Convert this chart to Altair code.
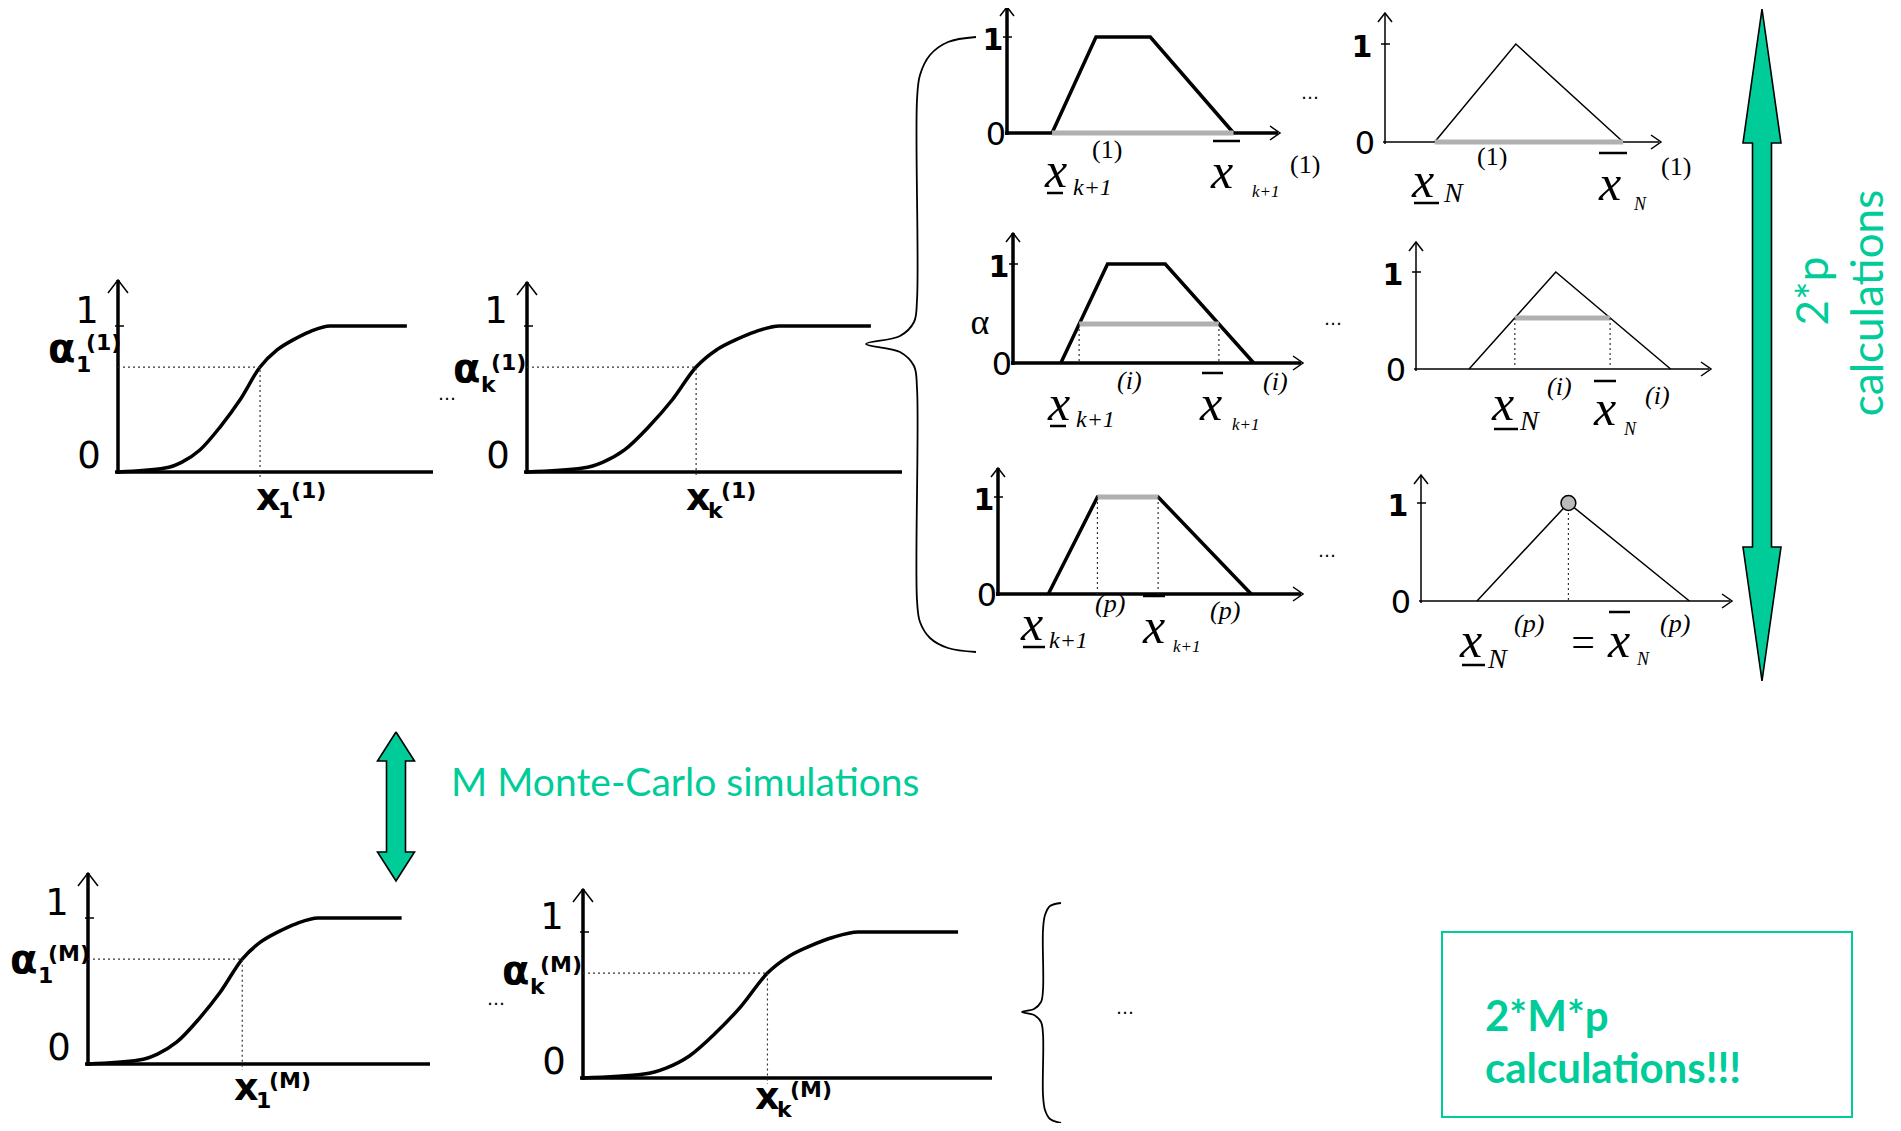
import altair as alt
import pandas as pd

# ---------------- data ----------------
# CDF of an output variable (normalised abscissa along the axis, alpha level)
cdf_x     = [0.000, 0.149, 0.203, 0.260, 0.324, 0.387, 0.451, 0.505, 0.556, 0.610, 0.673, 0.917]
cdf_alpha = [0.000, 0.027, 0.068, 0.151, 0.308, 0.493, 0.719, 0.836, 0.905, 0.962, 1.000, 1.000]
cdf_pick_x, cdf_pick_alpha = 0.451, 0.719

# fuzzy numbers (normalised abscissa, membership)
trap_x  = [0.165, 0.326, 0.525, 0.830]
trap_mu = [0, 1, 1, 0]
tri_x   = [0.180, 0.474, 0.863]
tri_mu  = [0, 1, 0]

# alpha-cuts used in rows (1), (i), (p)
trap_cut_alpha = [0.0, 0.394, 1.0]
trap_cut_lo    = [0.165, 0.228, 0.326]
trap_cut_hi    = [0.830, 0.710, 0.525]
tri_cut_alpha  = [0.0, 0.526, 1.0]
tri_cut_lo     = [0.180, 0.335, 0.474]
tri_cut_hi     = [0.863, 0.658, 0.474]

# ---------------- layout ----------------
CDF_UNIT = 146
CDF_PANELS = [
    dict(x0=118, y0=472,  L=315, top=280, sub="1", sup="(1)", al=48,  ab=362, xl=256, xb=510),
    dict(x0=527, y0=472,  L=375, top=282, sub="k", sup="(1)", al=453, ab=382, xl=686, xb=510),
    dict(x0=88,  y0=1064, L=342, top=873, sub="1", sup="(M)", al=10,  ab=973, xl=234, xb=1100),
    dict(x0=583, y0=1078, L=409, top=889, sub="k", sup="(M)", al=502, ab=984, xl=755, xb=1109),
]
FUZZY = [
    dict(kind="trap", row=0, x0=1007, y0=133, L=273, U=96, top=7),
    dict(kind="trap", row=1, x0=1013, y0=363, L=290, U=99, top=233),
    dict(kind="trap", row=2, x0=998,  y0=594, L=305, U=97, top=468),
    dict(kind="tri",  row=0, x0=1385, y0=142, L=276, U=98, top=13),
    dict(kind="tri",  row=1, x0=1416, y0=369, L=295, U=97, top=242),
    dict(kind="tri",  row=2, x0=1421, y0=601, L=311, U=98, top=475),
]
# x_left, x_base, bar kind, bar x0, bar x1, bar y, sub, sub_left, sub_base, sub_fs, sup, sup_left, sup_base
MATH_LABELS = [
    (1045, 187, "under", 1047, 1063, 193, "k+1", 1073, 195, 24, "(1)", 1092, 158),
    (1211, 188, "over",  1213, 1240, 141, "k+1", 1252, 197, 17, "(1)", 1290, 173),
    (1048, 420, "under", 1050, 1066, 426, "k+1", 1076, 427, 24, "(i)", 1117, 389),
    (1200, 420, "over",  1202, 1223, 373, "k+1", 1232, 430, 17, "(i)", 1263, 390),
    (1021, 640, "under", 1023, 1045, 647, "k+1", 1049, 648, 24, "(p)", 1095, 612),
    (1143, 643, "over",  1143, 1165, 596, "k+1", 1173, 652, 17, "(p)", 1210, 619),
    (1412, 197, "under", 1414, 1439, 203, "N",   1444, 202, 28, "(1)", 1477, 165),
    (1599, 200, "over",  1599, 1627, 153, "N",   1634, 210, 18, "(1)", 1661, 175),
    (1492, 420, "under", 1494, 1518, 429, "N",   1520, 430, 28, "(i)", 1547, 395),
    (1594, 425, "over",  1594, 1616, 381, "N",   1624, 435, 18, "(i)", 1645, 404),
    (1460, 657, "under", 1462, 1485, 665, "N",   1488, 668, 28, "(p)", 1514, 632),
    (1608, 657, "over",  1609, 1630, 612, "N",   1637, 665, 18, "(p)", 1660, 632),
]
DOTS = [(447, 398), (496, 1003), (1310, 97), (1333, 323), (1327, 555), (1125, 1012)]
BRACE1 = [(976, 37), (948, 42), (930, 55), (920, 75), (917, 100), (917, 300), (914, 322),
          (900, 336), (866, 344), (900, 352), (914, 366), (917, 388), (917, 600), (920, 622),
          (930, 638), (948, 648), (976, 652)]
BRACE2 = [(1061, 903), (1050, 906), (1045, 915), (1043, 930), (1043, 990), (1041, 1002),
          (1034, 1009), (1022, 1012), (1034, 1015), (1041, 1022), (1043, 1034), (1043, 1095),
          (1045, 1110), (1050, 1119), (1061, 1123)]
BIG_ARROW = dict(c=1762, head=19, shaft=9.5, t0=9, t1=143, t2=547, t3=681)
SMALL_ARROW = dict(c=396, head=18.5, shaft=9.5, t0=732, t1=761, t2=852, t3=881)
GREEN = "#00CC99"

# ---------------- build primitives ----------------
lines = {s: [] for s in ["thick", "thin", "dot", "gray", "bar", "curve", "brace", "outline"]}
gid = [0]


def poly(style, pts):
    gid[0] += 1
    for i, (x, y) in enumerate(pts):
        lines[style].append(dict(g=gid[0], o=i, x=x, y=y))


texts = []


def txt(x, y, s, fs, font="DejaVu Sans", weight="normal", style="normal",
        align="left", baseline="alphabetic", color="black", angle=0):
    texts.append(dict(x=x, y=y, t=s, fs=fs,
                      key=(font, weight, style, align, baseline, color, angle)))


# CDF panels
for p in CDF_PANELS:
    x0, y0, L, top = p["x0"], p["y0"], p["L"], p["top"]
    X = lambda u: x0 + u * L
    Y = lambda a: y0 - a * CDF_UNIT
    poly("thick", [(x0, y0 + 2), (x0, top)])
    poly("thick", [(x0 - 3, y0), (x0 + L, y0)])
    poly("thin", [(x0 - 10, top + 13), (x0, top), (x0 + 10, top + 13)])
    poly("thin", [(x0 - 3, Y(1)), (x0 + 6, Y(1))])
    poly("curve", [(X(u), Y(a)) for u, a in zip(cdf_x, cdf_alpha)])
    poly("dot", [(x0, Y(cdf_pick_alpha)), (X(cdf_pick_x), Y(cdf_pick_alpha)), (X(cdf_pick_x), y0 + 6)])
    txt(x0 - 31, y0 - 160, "1", 37, align="center", baseline="middle")
    txt(x0 - 29, y0 - 15, "0", 37, align="center", baseline="middle")
    txt(p["al"], p["ab"], "α", 40, weight="bold")
    txt(p["al"] + 28, p["ab"] + 10, p["sub"], 22, weight="bold")
    txt(p["al"] + 38, p["ab"] - 12, p["sup"], 22, weight="bold")
    txt(p["xl"], p["xb"], "x", 38, weight="bold")
    txt(p["xl"] + 22, p["xb"] + 8, p["sub"], 22, weight="bold")
    txt(p["xl"] + 35, p["xb"] - 12, p["sup"], 22, weight="bold")

# fuzzy panels
circles = []
for f in FUZZY:
    x0, y0, L, U, top, r = f["x0"], f["y0"], f["L"], f["U"], f["top"], f["row"]
    X = lambda u: x0 + u * L
    Y = lambda a: y0 - a * U
    w = "thick" if f["kind"] == "trap" else "thin"
    poly(w, [(x0, y0 + 2), (x0, top)])
    poly("thin", [(x0 - 7, top + 9), (x0, top), (x0 + 7, top + 9)])
    poly(w, [(x0 - 2, y0), (x0 + L - 2, y0)])
    poly("thin", [(x0 + L - 10, y0 - 7), (x0 + L, y0), (x0 + L - 10, y0 + 7)])
    poly("thin", [(x0 - 4, Y(1)), (x0 + 5, Y(1))])
    if f["kind"] == "trap":
        poly(w, [(X(u), Y(m)) for u, m in zip(trap_x, trap_mu)])
        a, lo, hi = trap_cut_alpha[r], trap_cut_lo[r], trap_cut_hi[r]
        d1, d0 = -14, -11
    else:
        poly(w, [(X(u), Y(m)) for u, m in zip(tri_x, tri_mu)])
        a, lo, hi = tri_cut_alpha[r], tri_cut_lo[r], tri_cut_hi[r]
        d1, d0 = -23, -20
    if hi > lo:
        poly("gray", [(X(lo), Y(a)), (X(hi), Y(a))])
    else:
        circles.append(dict(x=X(lo), y=Y(a)))
    if a > 0:
        poly("dot", [(X(lo), Y(a)), (X(lo), y0)])
        if hi > lo:
            poly("dot", [(X(hi), Y(a)), (X(hi), y0)])
    txt(x0 + d1, Y(1) + 4, "1", 30, weight="bold", align="center", baseline="middle")
    txt(x0 + d0, y0 + 2, "0", 32, align="center", baseline="middle")
    if f["kind"] == "trap" and r == 1:
        txt(x0 - 33, Y(0.4), "α", 36, font="Liberation Serif", align="center", baseline="middle")

# math labels
for (xl, xb, bk, b0, b1, by, sub, sl, sb, sfs, sup, supl, supb) in MATH_LABELS:
    txt(xl, xb, "x", 50, font="Liberation Serif", style="italic")
    poly("bar", [(b0, by), (b1, by)])
    txt(sl, sb, sub, sfs, font="Liberation Serif", style="italic")
    txt(supl, supb, sup, 26, font="Liberation Serif",
        style="normal" if sup == "(1)" else "italic")
txt(1583, 643, "=", 42, font="Liberation Serif", align="center", baseline="middle")

for (dx, dy) in DOTS:
    txt(dx, dy + 2, "…", 18, align="center")

poly("brace", BRACE1)
poly("brace", BRACE2)

# green double arrows: heads (triangles) and shafts
head_tables, shafts = [], []
for A in [BIG_ARROW, SMALL_ARROW]:
    c, h, s = A["c"], A["head"], A["shaft"]
    for tip, base in [(A["t0"], A["t1"]), (A["t3"], A["t2"])]:
        head_tables.append(pd.DataFrame(
            [dict(x=xx, y=yy, y2=base) for xx, yy in [(c - h, base), (c, tip), (c + h, base)]]))
    shafts.append(dict(x=c - s, x2=c + s, y=A["t1"], y2=A["t2"]))
    prof = [(A["t0"], 0), (A["t1"], h), (A["t1"], s), (A["t2"], s), (A["t2"], h), (A["t3"], 0)]
    right = [(c + hw, yy) for yy, hw in prof]
    left = [(c - hw, yy) for yy, hw in reversed(prof)]
    poly("outline", right + left[1:])

txt(451, 784, "M Monte-Carlo simulations", 39, font="Lato", color=GREEN, baseline="middle")
txt(1815, 291, "2*p", 44, font="Lato", color=GREEN, align="center", baseline="middle", angle=270)
txt(1870, 303, "calculations", 44, font="Lato", color=GREEN, align="center", baseline="middle", angle=270)
txt(1485, 1018, "2*M*p", 42, font="Lato", weight="bold", color=GREEN, baseline="middle")
txt(1485, 1070, "calculations!!!", 42, font="Lato", weight="bold", color=GREEN, baseline="middle")

box = pd.DataFrame([dict(x=1442, x2=1852, y=932, y2=1117)])

# ---------------- chart ----------------
xs = alt.Scale(domain=[8, 1893], nice=False, zero=False)
ys = alt.Scale(domain=[8, 1123], nice=False, zero=False, reverse=True)
X_ = alt.X("x:Q", scale=xs, axis=None)
Y_ = alt.Y("y:Q", scale=ys, axis=None)


def line_layer(style, **mk):
    df = pd.DataFrame(lines[style])
    return alt.Chart(df).mark_line(**mk).encode(x=X_, y=Y_, detail="g:N", order="o:Q")


layers = []
layers.append(
    alt.Chart(pd.DataFrame(shafts)).mark_rect(color=GREEN, opacity=1).encode(
        x=X_, x2="x2:Q", y=Y_, y2="y2:Q"
    )
)
for hdf in head_tables:
    layers.append(
        alt.Chart(hdf).mark_area(fill=GREEN, fillOpacity=1, opacity=1, interpolate="linear").encode(
            x=alt.X("x:Q", scale=xs, axis=None),
            y=alt.Y("y:Q", scale=ys, axis=None),
            y2="y2:Q",
        )
    )
layers.append(line_layer("outline", color="black", strokeWidth=1.6))
layers.append(line_layer("thick", color="black", strokeWidth=3.5))
layers.append(line_layer("thin", color="black", strokeWidth=1.5))
layers.append(line_layer("curve", color="black", strokeWidth=3.5, interpolate="monotone"))
layers.append(line_layer("gray", color="#b0b0b0", strokeWidth=5))
layers.append(line_layer("dot", color="#333333", strokeWidth=1.2, strokeDash=[2, 3]))
layers.append(line_layer("bar", color="black", strokeWidth=2.5))
layers.append(line_layer("brace", color="black", strokeWidth=1.8, interpolate="catmull-rom"))
layers.append(
    alt.Chart(pd.DataFrame(circles)).mark_circle(
        color="#bbbbbb", stroke="black", strokeWidth=1.5, size=220, opacity=1
    ).encode(x=X_, y=Y_)
)
layers.append(
    alt.Chart(box).mark_rect(fill="white", fillOpacity=0, stroke=GREEN, strokeWidth=2).encode(
        x=X_, x2="x2:Q", y=Y_, y2="y2:Q"
    )
)

tdf = pd.DataFrame(texts)
for key, grp in tdf.groupby("key", sort=False):
    font, weight, style, align, baseline, color, angle = key
    layers.append(
        alt.Chart(grp[["x", "y", "t", "fs"]].reset_index(drop=True)).mark_text(
            font=font, fontWeight=weight, fontStyle=style, align=align,
            baseline=baseline, color=color, angle=angle
        ).encode(x=X_, y=Y_, text="t:N", size=alt.Size("fs:Q", scale=None, legend=None))
    )

chart = alt.layer(*layers).properties(
    width=1885, height=1115, padding=0, autosize=alt.AutoSizeParams(type="none"),
    background="white",
).configure_view(stroke=None)

chart.save("out.html", embed_options={"renderer": "svg", "actions": False})
